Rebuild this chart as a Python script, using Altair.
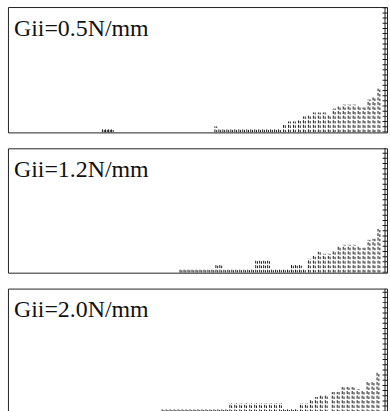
import altair as alt
import pandas as pd

labels = ["Gii=0.5N/mm", "Gii=1.2N/mm", "Gii=2.0N/mm"]
panel_heights = [126, 125, 129]
edge_x = [379, 379, 379]

# crack-mark columns: position along the specimen and height of damaged zone
p1_x = [95, 98, 101, 104,
        208, 212, 216, 220, 224, 228, 232, 236, 240, 244, 248, 252, 256, 260, 264, 268, 272,
        277, 282, 287, 292, 297, 302, 307, 312, 317, 322, 327, 332, 337, 342, 347, 352, 357,
        362, 367, 372]
p1_h = [4, 4, 4, 4,
        6, 4, 4, 4, 4, 4, 4, 4, 4, 4, 4, 4, 4, 4, 4, 4, 4,
        9, 11, 11, 12, 16, 18, 20, 20, 20, 18, 24, 27, 28, 28, 28, 27, 25,
        33, 36, 44]

p2_x = [173, 177, 181, 185, 189, 193, 197, 201, 205, 209, 213, 217, 221, 225, 229, 233,
        237, 241, 245, 249, 253, 257, 261, 265, 269, 273, 277, 281, 285, 289, 293, 297,
        302, 307, 312, 317, 322, 327, 332, 337, 342, 347, 352, 357, 362, 367, 372]
p2_h = [4, 4, 4, 4, 4, 4, 4, 4, 4, 8, 8, 4, 4, 4, 4, 4,
        4, 4, 4, 12, 12, 12, 12, 4, 4, 4, 4, 4, 9, 9, 9, 4,
        14, 18, 21, 19, 19, 22, 26, 28, 28, 28, 26, 25, 33, 34, 44]

p3_x = [131, 135, 139, 143, 147, 151,
        155, 159, 163, 167, 171, 175, 179, 183, 187, 191, 195, 199, 203, 207, 211, 215, 219,
        223, 228, 233, 238, 243, 248, 253, 258, 263, 268, 273,
        277, 281, 285, 289, 294, 299,
        304, 309, 314, 319, 326, 331, 336, 341, 346, 351, 356, 361, 366, 371]
p3_h = [3, 3, 3, 3, 3, 3,
        8, 8, 8, 8, 8, 8, 8, 8, 8, 8, 8, 8, 8, 8, 8, 8, 8,
        14, 14, 14, 14, 14, 14, 14, 14, 14, 14, 14,
        9, 9, 9, 9, 14, 14,
        17, 20, 22, 22, 25, 25, 30, 30, 30, 28, 27, 35, 35, 45]

xs_all = [p1_x, p2_x, p3_x]
hs_all = [p1_h, p2_h, p3_h]

INK = "#1a1a1a"
W = 381


def panel(label, xs, hs, H, ex):
    df = pd.DataFrame({"x": xs, "h": hs})
    df["xb"] = df["x"] + 1.8
    df["y0"] = 0
    xsc = alt.Scale(domain=[0, W], nice=False, zero=False)
    ysc = alt.Scale(domain=[0, H], nice=False)
    base = alt.Chart(df)
    r1 = base.mark_rule(strokeWidth=1, strokeDash=[3, 1.6], color=INK, clip=True).encode(
        x=alt.X("x:Q", scale=xsc, axis=None),
        y=alt.Y("y0:Q", scale=ysc, axis=None),
        y2="h:Q",
    )
    r2 = base.mark_rule(strokeWidth=1, strokeDash=[2.5, 2], color=INK, clip=True).encode(
        x=alt.X("xb:Q", scale=xsc, axis=None),
        y=alt.Y("y0:Q", scale=ysc, axis=None),
        y2="h:Q",
    )
    edf = pd.DataFrame({"x": [ex], "y0": [0], "top": [H]})
    e1 = alt.Chart(edf).mark_rule(strokeWidth=1, color=INK, clip=True).encode(
        x=alt.X("x:Q", scale=xsc, axis=None),
        y=alt.Y("y0:Q", scale=ysc, axis=None),
        y2="top:Q",
    )
    e2 = alt.Chart(edf).mark_rule(strokeWidth=5, strokeDash=[1, 4.2], color=INK, clip=True).encode(
        x=alt.X("x:Q", scale=xsc, axis=None),
        y=alt.Y("y0:Q", scale=ysc, axis=None),
        y2="top:Q",
    )
    t = alt.Chart(pd.DataFrame({"label": [label]})).mark_text(
        font="Liberation Serif", fontSize=24, align="left", baseline="alphabetic", color="#111"
    ).encode(x=alt.value(6), y=alt.value(29), text="label:N")
    return alt.layer(r1, r2, e1, e2, t).properties(width=W, height=H)


panels = [panel(labels[i], xs_all[i], hs_all[i], panel_heights[i], edge_x[i]) for i in range(3)]

chart = alt.vconcat(*panels, spacing=14).properties(
    padding={"left": 7, "top": 5, "right": 2, "bottom": 0},
    background="white",
).configure_view(stroke="#222", strokeWidth=1)

chart.save("out.html", embed_options={"renderer": "svg", "actions": False})
